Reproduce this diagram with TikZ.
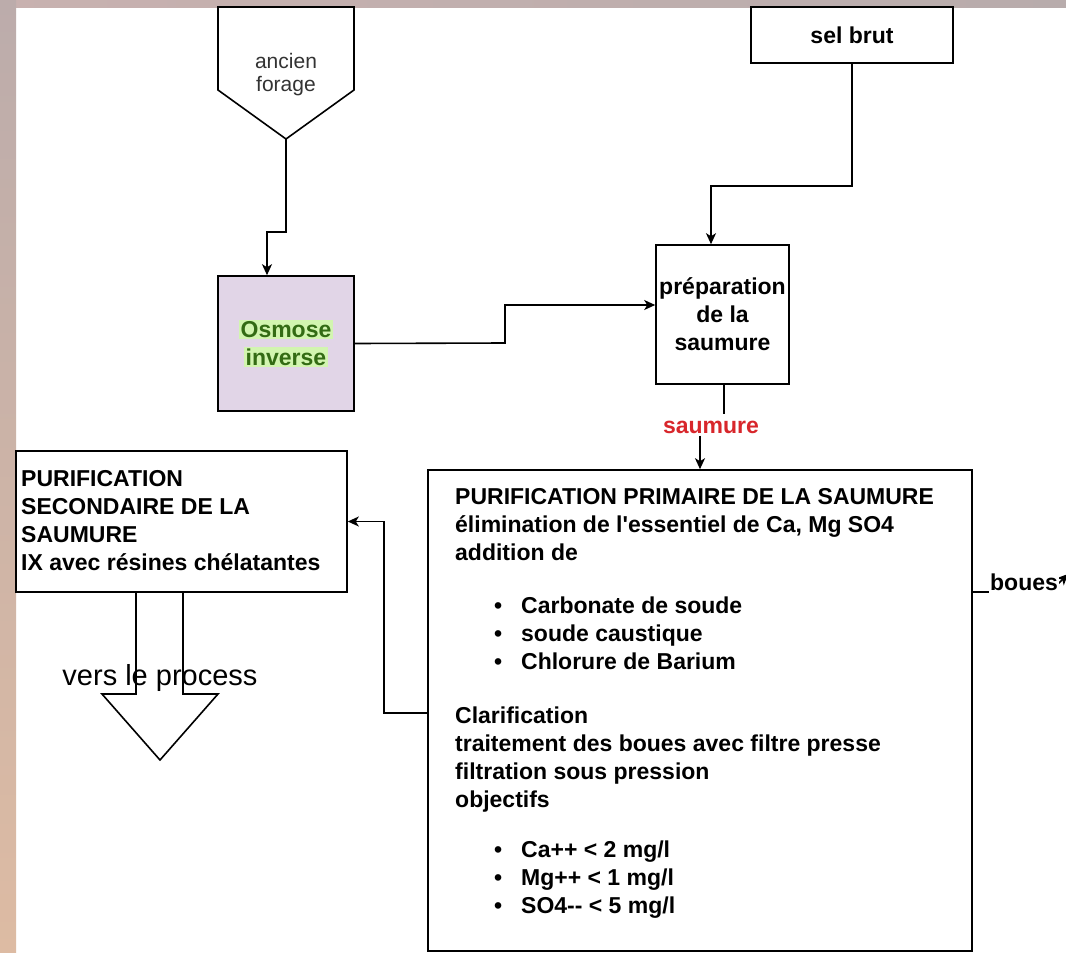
\documentclass[tikz,border=0pt]{standalone}
\usepackage{fontspec}
\setmainfont{Liberation Sans}[Ligatures=TeXOff]
\usetikzlibrary{arrows.meta,calc}
\definecolor{lav}{HTML}{E1D5E7}
\definecolor{hl}{HTML}{D2F5B0}
\definecolor{osmgreen}{HTML}{336B14}
\definecolor{saumred}{HTML}{D8262B}
\definecolor{txtgray}{HTML}{333333}
\definecolor{topL}{HTML}{C8B1AF}
\definecolor{topR}{HTML}{B8ACAC}
\definecolor{sideT}{HTML}{BCACAB}
\definecolor{sideM}{HTML}{CBB0AC}
\definecolor{sideB}{HTML}{DDBBA3}
\newcommand\mybul{\hspace*{39pt}\makebox[27pt][l]{•}}
\begin{document}
\begin{tikzpicture}[x=1pt,y=-1pt,
  box/.style={draw=black, line width=1.6pt, inner sep=0pt},
  ln/.style={line width=1.6pt},
  arr/.style={line width=1.6pt, -{Stealth[length=11pt,width=10pt,inset=3pt]}},
  bigtxt/.style={font=\fontsize{23}{28}\selectfont\bfseries},
]
\useasboundingbox (0,0) rectangle (1066,953);
\fill[white] (0,0) rectangle (1066,953);
\shade[left color=topL, right color=topR] (0,0) rectangle (1066,7);
\shade[top color=sideT, middle color=sideM, bottom color=sideB] (0,0) rectangle (16,953);

% ancien forage (off-page connector shape)
\draw[ln, fill=white] (218,7) -- (354,7) -- (354,90) -- (286,139) -- (218,90) -- cycle;
\coordinate (forageTip) at (286,139);
\node[font=\fontsize{21}{23.5}\selectfont, text=txtgray, align=center] (forage) at (286,74.5) {ancien\\forage};

% Osmose inverse
\node[box, fill=lav, minimum width=136pt, minimum height=135pt] (osm) at (286,343.5) {};
\node[bigtxt, text=osmgreen, align=center, inner sep=0pt] (osmtxt) at (osm.center)
  {\setlength{\fboxsep}{1.5pt}\colorbox{hl}{Osmose}\\\setlength{\fboxsep}{1.5pt}\colorbox{hl}{inverse}};

% sel brut
\node[box, minimum width=202pt, minimum height=56pt, bigtxt] (sel) at (852,35) {sel brut};

% preparation de la saumure
\node[box, minimum width=133pt, minimum height=139pt, bigtxt, align=center] (prep) at (722.5,314.5)
  {préparation\\de la\\saumure};

% primary purification
\node[box, minimum width=544pt, minimum height=481pt] (prim) at (700,710.5) {};
\node[anchor=north west, inner sep=0pt, align=left, bigtxt] (primtxt) at (455,488.5) {%
PURIFICATION PRIMAIRE DE LA SAUMURE\\
élimination de l'essentiel de Ca, Mg SO4\\
addition de\\[25pt]
\mybul Carbonate de soude\\
\mybul soude caustique\\
\mybul Chlorure de Barium\\[26pt]
Clarification\\
traitement des boues avec filtre presse\\
filtration sous pression\\
objectifs\\[22pt]
\mybul Ca++ < 2 mg/l\\
\mybul Mg++ < 1 mg/l\\
\mybul SO4-- < 5 mg/l};

% secondary purification
\node[box, minimum width=331pt, minimum height=141pt] (sec) at (181.5,521.5) {};
\node[anchor=north west, inner sep=0pt, align=left, bigtxt] (sectxt) at (21,470.5)
  {PURIFICATION\\SECONDAIRE DE LA\\SAUMURE\\IX avec résines chélatantes};

% vers le process (block arrow)
\coordinate (vpL) at (136,592);
\coordinate (vpR) at (183,592);
\coordinate (vpTip) at (160,760);
\draw[ln, line join=miter] (vpL) -- (136,694) -- (102,694) -- (vpTip) -- (218,694) -- (183,694) -- (vpR);
\node[anchor=base, font=\fontsize{29}{32}\selectfont, inner sep=0pt] (vers) at (160,685) {vers le process};

% connectors
\draw[arr] (forageTip) -- (286,232) -| ([xshift=-19pt]osm.north);
\draw[arr] (sel.south) -- ++(0,122) -| ([xshift=-11.5pt]prep.north);
\draw[arr] (osm.east) -- (505,343) |- ([yshift=9.5pt]prep.west);
\draw[ln] ([xshift=1.5pt]prep.south) -- ++(0,29);
\node[bigtxt, text=saumred, inner sep=2pt] (saum) at (711,427) {saumure};
\draw[arr] (saum.south -| prim.north) -- (prim.north);
\draw[arr] ([yshift=-2.5pt]prim.west) -- ++(-43,0) |- (sec.east);

% boues
\coordinate (bouesEnd) at (1068,574);
\draw[arr] ([yshift=118.5pt]prim.east) -- (1050,592) -- (bouesEnd);
\node[fill=white, bigtxt, inner xsep=1pt, inner ysep=3pt] (boues) at (1024,582) {boues};
\end{tikzpicture}
\end{document}
